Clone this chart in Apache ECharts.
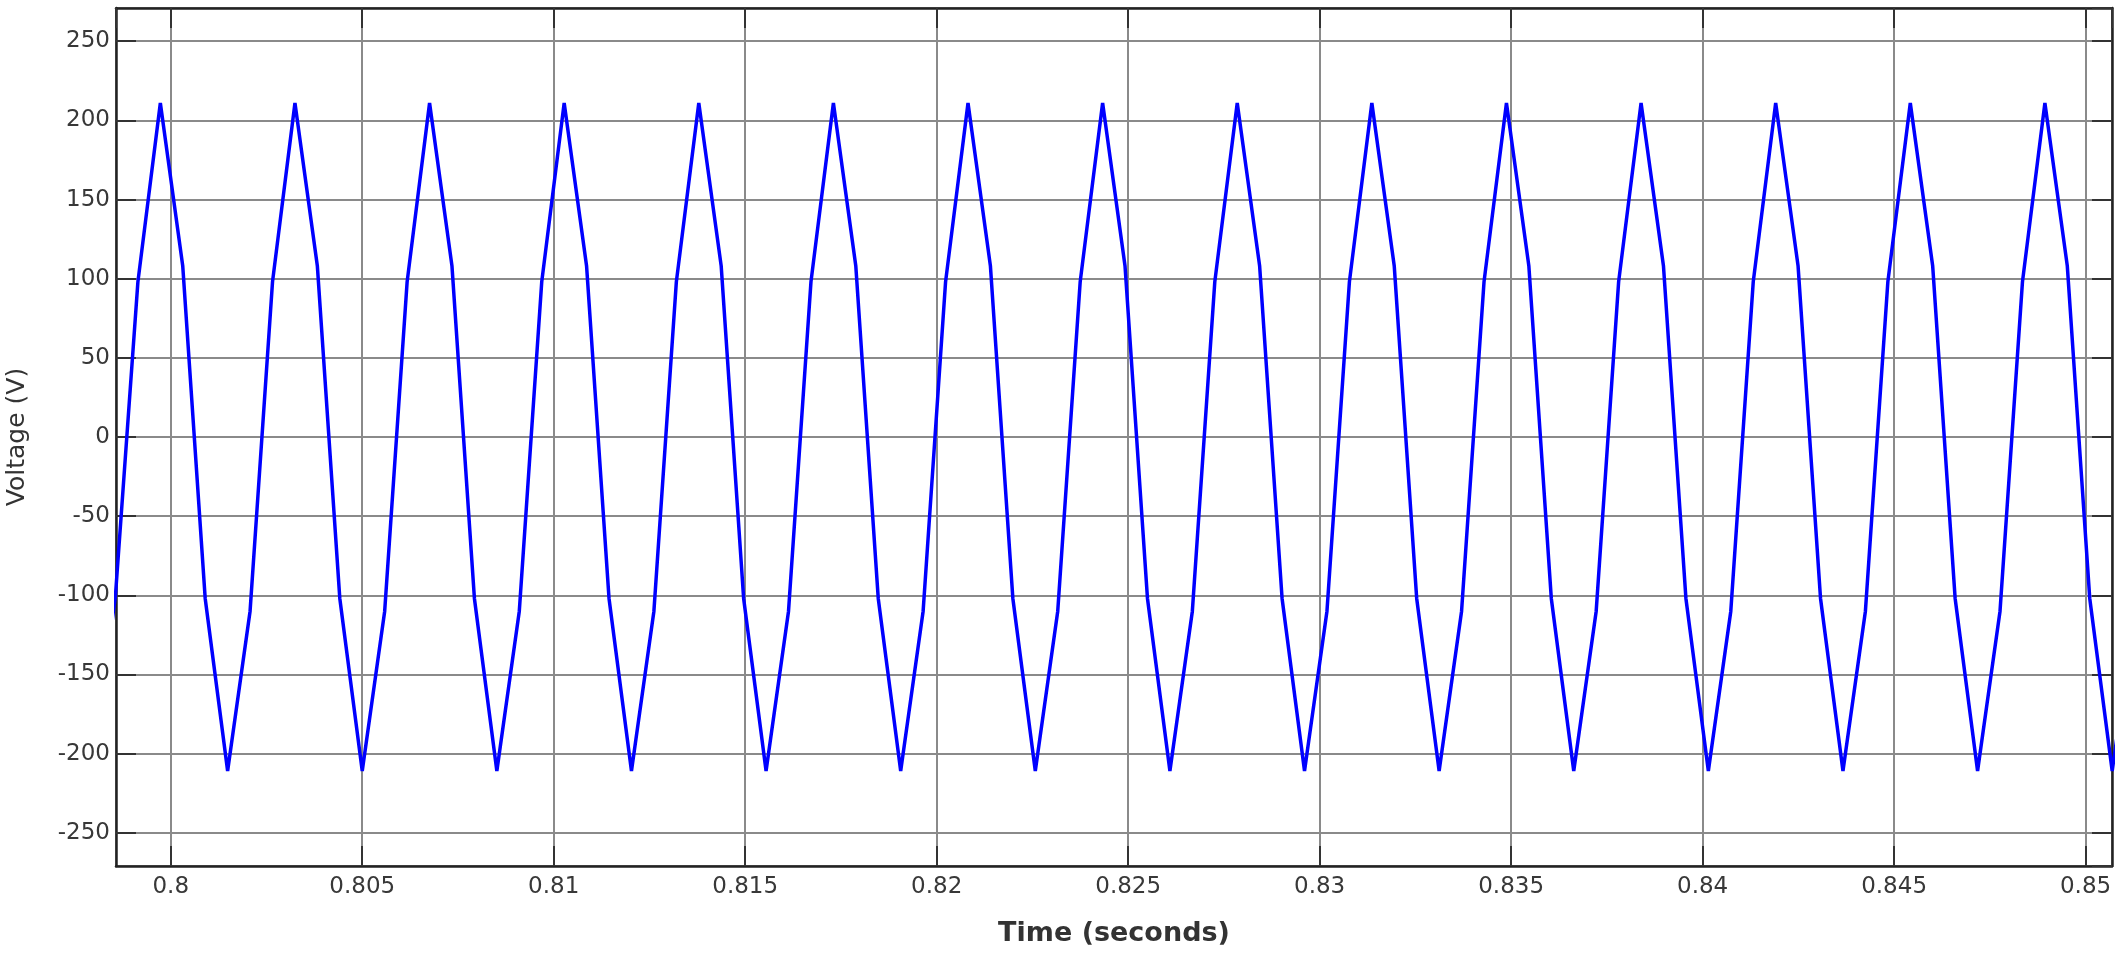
<!DOCTYPE html>
<html><head><meta charset="utf-8">
<script src="https://cdn.jsdelivr.net/npm/echarts@6/dist/echarts.min.js"></script>
<style>html,body{margin:0;padding:0;background:#fff}#c{width:2128px;height:954px}</style>
</head><body><div id="c"></div>
<script>
// Sample times (s)
const times = [
  0.797970, 0.798556, 0.799142,
  0.799728, 0.800313, 0.800899, 0.801485, 0.802071, 0.802657,
  0.803243, 0.803828, 0.804414, 0.805000, 0.805586, 0.806172,
  0.806758, 0.807343, 0.807929, 0.808515, 0.809101, 0.809687,
  0.810273, 0.810858, 0.811444, 0.812030, 0.812616, 0.813202,
  0.813788, 0.814373, 0.814959, 0.815545, 0.816131, 0.816717,
  0.817303, 0.817888, 0.818474, 0.819060, 0.819646, 0.820232,
  0.820818, 0.821403, 0.821989, 0.822575, 0.823161, 0.823747,
  0.824333, 0.824918, 0.825504, 0.826090, 0.826676, 0.827262,
  0.827848, 0.828433, 0.829019, 0.829605, 0.830191, 0.830777,
  0.831363, 0.831948, 0.832534, 0.833120, 0.833706, 0.834292,
  0.834878, 0.835463, 0.836049, 0.836635, 0.837221, 0.837807,
  0.838393, 0.838978, 0.839564, 0.840150, 0.840736, 0.841322,
  0.841908, 0.842493, 0.843079, 0.843665, 0.844251, 0.844837,
  0.845423, 0.846008, 0.846594, 0.847180, 0.847766, 0.848352,
  0.848938, 0.849523, 0.850109, 0.850695, 0.851281
];
// Voltage (V) at each vertex
const voltages = [
  -211, -100, 98,
  211, 108, -102, -211, -110, 98,
  211, 108, -102, -211, -110, 98,
  211, 108, -102, -211, -110, 98,
  211, 108, -102, -211, -110, 98,
  211, 108, -102, -211, -110, 98,
  211, 108, -102, -211, -110, 98,
  211, 108, -102, -211, -110, 98,
  211, 108, -102, -211, -110, 98,
  211, 108, -102, -211, -110, 98,
  211, 108, -102, -211, -110, 98,
  211, 108, -102, -211, -110, 98,
  211, 108, -102, -211, -110, 98,
  211, 108, -102, -211, -110, 98,
  211, 108, -102, -211, -110, 98,
  211, 108, -102, -211, -110
];
const xRange = [0.79857, 0.85069];
const yRange = [-271, 271];

const chart = echarts.init(document.getElementById('c'), null, {renderer: 'canvas'});
const labelFont = {fontFamily: 'DejaVu Sans', fontSize: 23, color: '#383838'};
const gridLine = {show: true, lineStyle: {color: '#8a8a8a', width: 2}};
const tick = {show: true, inside: true, length: 20, lineStyle: {color: '#333', width: 2}};
const frame = {show: true, onZero: false, lineStyle: {color: '#222', width: 2.5}};

const data = times.map((t, i) => [t, voltages[i]]);

chart.setOption({
  animation: false,
  backgroundColor: '#fff',
  grid: {left: 116, top: 8, right: 16, bottom: 88, containLabel: false, outerBoundsMode: 'none'},
  xAxis: [{
    type: 'value', position: 'bottom', min: xRange[0], max: xRange[1], splitNumber: 10,
    axisLine: frame, axisTick: tick, splitLine: gridLine,
    axisLabel: Object.assign({margin: 10, showMinLabel: false, showMaxLabel: false}, labelFont),
    name: 'Time (seconds)', nameLocation: 'middle', nameGap: 54,
    nameTextStyle: {fontFamily: 'DejaVu Sans', fontSize: 27, fontWeight: 'bold', color: '#333'}
  }, {
    type: 'value', position: 'top', min: xRange[0], max: xRange[1], splitNumber: 10,
    axisLine: frame, axisTick: tick, splitLine: {show: false}, axisLabel: {show: false}
  }],
  yAxis: [{
    type: 'value', position: 'left', min: yRange[0], max: yRange[1], splitNumber: 10,
    axisLine: frame, axisTick: tick, splitLine: gridLine,
    axisLabel: Object.assign({margin: 6, showMinLabel: false, showMaxLabel: false}, labelFont),
    name: 'Voltage (V)', nameLocation: 'middle', nameGap: 86, nameRotate: 90,
    nameTextStyle: {fontFamily: 'DejaVu Sans', fontSize: 25, color: '#333'}
  }, {
    type: 'value', position: 'right', min: yRange[0], max: yRange[1], splitNumber: 10,
    axisLine: frame, axisTick: tick, splitLine: {show: false}, axisLabel: {show: false}
  }],
  series: [{
    type: 'line', data: data, xAxisIndex: 0, yAxisIndex: 0,
    showSymbol: false, symbol: 'none', clip: true,
    lineStyle: {color: '#0000ff', width: 3.5}
  }]
});
</script></body></html>
